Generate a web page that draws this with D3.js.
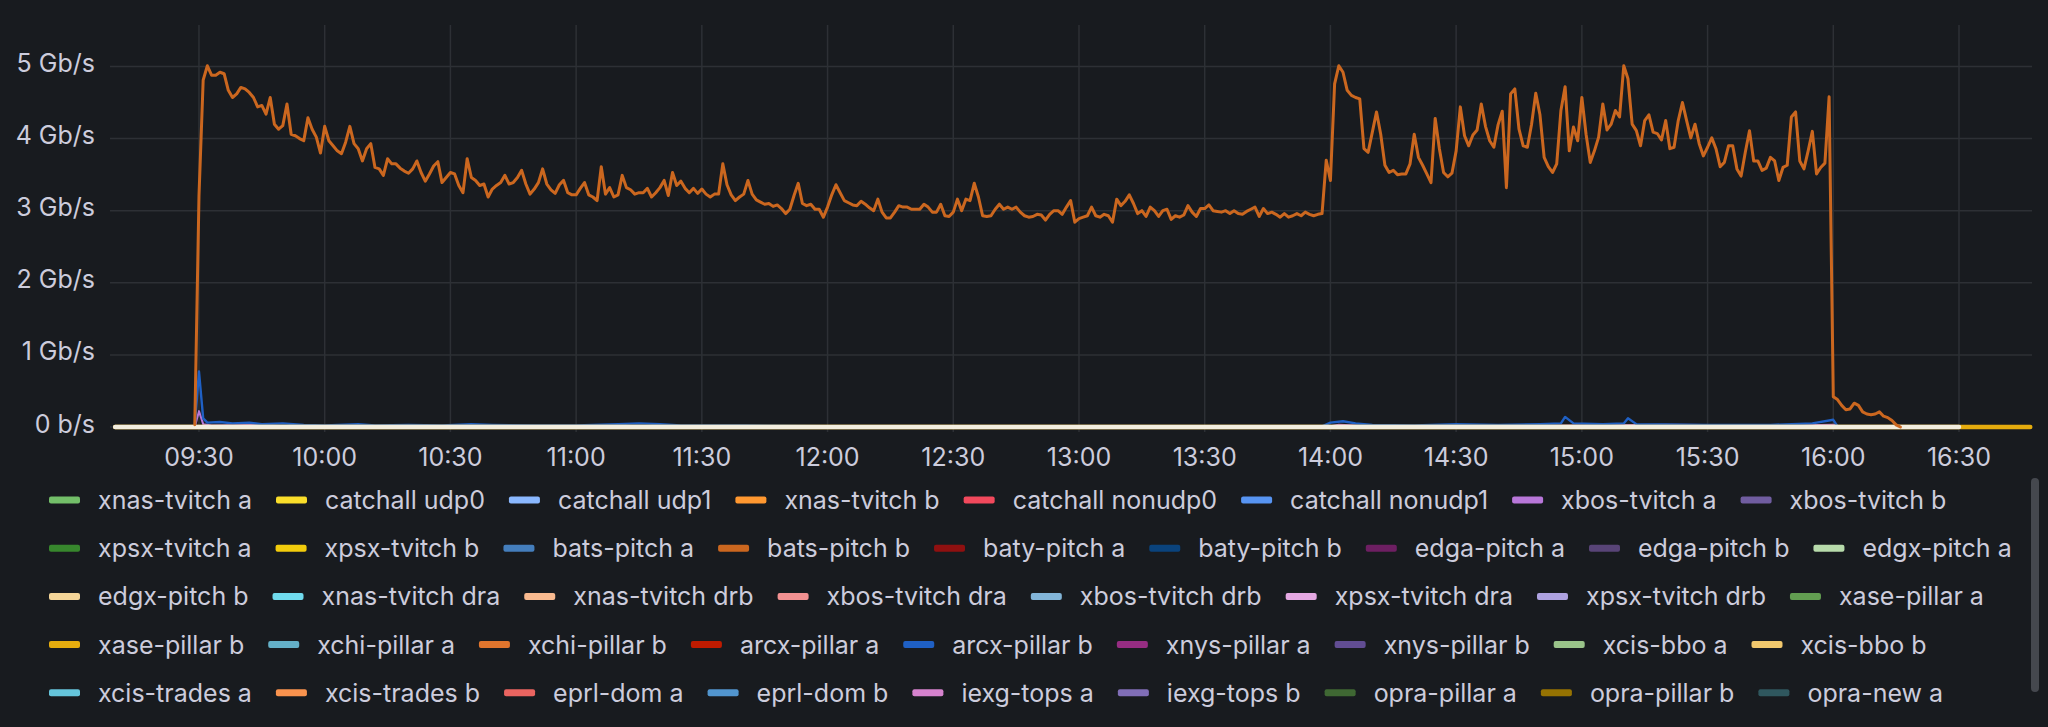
<!DOCTYPE html>
<html><head><meta charset="utf-8">
<script src="https://cdn.jsdelivr.net/npm/d3@7"></script>
<style>
html,body{margin:0;padding:0;background:#181b1f;overflow:hidden;}
svg{display:block;}
text{font-family:Inter,"Noto Sans",sans-serif;}
</style></head><body>
<svg id="chart" width="2048" height="727"></svg>
<script>
// ---------------- data ----------------
const seriesNames = [
  "xnas-tvitch a","catchall udp0","catchall udp1","xnas-tvitch b","catchall nonudp0","catchall nonudp1","xbos-tvitch a","xbos-tvitch b",
  "xpsx-tvitch a","xpsx-tvitch b","bats-pitch a","bats-pitch b","baty-pitch a","baty-pitch b","edga-pitch a","edga-pitch b","edgx-pitch a",
  "edgx-pitch b","xnas-tvitch dra","xnas-tvitch drb","xbos-tvitch dra","xbos-tvitch drb","xpsx-tvitch dra","xpsx-tvitch drb","xase-pillar a",
  "xase-pillar b","xchi-pillar a","xchi-pillar b","arcx-pillar a","arcx-pillar b","xnys-pillar a","xnys-pillar b","xcis-bbo a","xcis-bbo b",
  "xcis-trades a","xcis-trades b","eprl-dom a","eprl-dom b","iexg-tops a","iexg-tops b","opra-pillar a","opra-pillar b","opra-new a"
];
const legendRowSizes = [8, 9, 8, 9, 9];
const seriesColors = [
  "#73BF69","#FADE2A","#8AB8FF","#FF9830","#F2495C","#5794F2","#B877D9","#705DA0",
  "#37872D","#F2CC0C","#447EBC","#CB671F","#8F1010","#0A437C","#6D1F62","#584477","#B7DBAB",
  "#F4D598","#70DBED","#F9BA8F","#F29191","#82B5D8","#E5A8E2","#AEA2E0","#629E51",
  "#E5AC0E","#64B0C8","#E0752D","#BF1B00","#1F60C4","#962D82","#614D93","#9AC48A","#F2C96D",
  "#65C5DB","#F9934E","#EA6460","#5195CE","#D683CE","#806EB7","#3F6833","#967302","#2F575E"
];
const yTickValues = [0, 1, 2, 3, 4, 5];
const yTickLabels = ["0 b/s", "1 Gb/s", "2 Gb/s", "3 Gb/s", "4 Gb/s", "5 Gb/s"];
const xTickLabels = ["09:30","10:00","10:30","11:00","11:30","12:00","12:30","13:00","13:30","14:00","14:30","15:00","15:30","16:00","16:30"];
const timeRange = ["09:08:46", "16:47:25"];

// bats-pitch b, Gb/s, one sample per minute starting at 09:29
const mainStart = "09:29";
const batsPitchB = [
  0.03,3.2,4.81,5.01,4.88,4.88,4.92,4.90,4.67,4.57,4.62,4.71,4.69,4.64,4.57,4.44,4.46,4.34,4.57,4.20,
  4.13,4.18,4.48,4.06,4.04,4.00,3.97,4.29,4.13,4.02,3.80,4.17,3.97,3.90,3.83,3.79,3.95,4.17,3.93,3.86,
  3.69,3.86,3.93,3.60,3.58,3.49,3.72,3.65,3.65,3.59,3.55,3.52,3.58,3.69,3.53,3.41,3.51,3.62,3.68,3.39,
  3.46,3.53,3.51,3.35,3.25,3.72,3.46,3.42,3.35,3.37,3.19,3.30,3.35,3.39,3.49,3.37,3.39,3.46,3.56,3.37,
  3.23,3.30,3.39,3.58,3.37,3.29,3.24,3.36,3.42,3.25,3.22,3.22,3.31,3.39,3.22,3.19,3.14,3.61,3.23,3.32,
  3.19,3.22,3.49,3.32,3.29,3.23,3.25,3.25,3.31,3.19,3.25,3.32,3.42,3.21,3.53,3.35,3.41,3.31,3.25,3.31,
  3.24,3.30,3.23,3.19,3.23,3.23,3.65,3.36,3.22,3.14,3.19,3.23,3.42,3.23,3.15,3.12,3.09,3.10,3.06,3.08,
  3.03,2.96,3.02,3.21,3.38,3.10,3.07,3.09,3.02,3.02,2.91,3.05,3.22,3.36,3.25,3.14,3.11,3.08,3.07,3.13,
  3.09,3.04,3.00,3.16,2.98,2.90,2.90,2.98,3.07,3.05,3.05,3.02,3.02,3.02,3.09,3.05,2.98,2.98,3.09,2.93,
  2.92,2.98,3.16,3.00,3.16,3.14,3.38,3.19,2.93,2.92,2.93,3.02,3.09,3.02,3.05,3.02,3.05,2.98,2.93,2.91,
  2.92,2.95,2.94,2.87,2.95,3.00,3.00,2.95,3.05,3.14,2.84,2.89,2.91,2.93,3.05,2.93,2.91,2.95,2.93,2.84,
  3.16,3.07,3.13,3.22,3.10,2.96,3.00,2.92,3.05,3.00,2.92,3.00,3.02,2.88,2.93,2.91,2.94,3.07,2.98,2.92,
  3.03,3.03,3.08,3.00,2.99,2.98,3.00,2.96,3.00,2.96,2.95,2.99,3.02,3.05,2.92,3.03,2.96,2.98,2.95,2.91,
  2.96,2.91,2.93,2.96,2.93,2.98,2.95,2.93,2.95,2.96,3.70,3.42,4.76,5.01,4.92,4.67,4.60,4.57,4.55,3.86,
  3.81,4.09,4.37,4.06,3.63,3.53,3.56,3.50,3.51,3.51,3.65,4.06,3.74,3.63,3.51,3.39,4.28,3.86,3.53,3.47,
  3.52,3.83,4.44,4.04,3.90,4.05,4.12,4.48,4.17,3.97,3.88,4.19,4.38,3.32,4.62,4.69,4.13,3.90,3.88,4.20,
  4.63,4.33,3.74,3.61,3.53,3.65,4.39,4.72,3.83,4.16,3.97,4.57,4.06,3.67,3.83,4.02,4.48,4.12,4.20,4.39,
  4.30,5.01,4.83,4.20,4.11,3.90,4.25,4.33,4.09,4.07,3.98,4.25,3.86,3.88,4.25,4.50,4.25,4.01,4.20,3.93,
  3.76,3.88,4.01,3.86,3.61,3.67,3.90,3.90,3.58,3.48,3.81,4.11,3.69,3.69,3.56,3.59,3.74,3.69,3.42,3.60,
  3.63,4.30,4.37,3.69,3.58,3.83,4.10,3.51,3.60,3.66,4.58,0.42,0.38,0.30,0.24,0.25,0.33,0.30,0.21,0.18,
  0.17,0.18,0.21,0.15,0.13,0.09,0.03,0.00
];

// arcx-pillar b (small blue series near zero)
const arcxTimes = ["09:10","09:28","09:29","09:30","09:31","09:32","09:35","09:38","09:42","09:45","09:50","09:55","10:00","10:08","10:12","10:20","10:28","10:35","10:40","10:50","11:00","11:10","11:15","11:20","11:25","11:40","12:00","12:30","13:00","13:30","13:58","14:00","14:03","14:06","14:10","14:20","14:30","14:40","14:50","14:55","14:56","14:58","15:05","15:10","15:11","15:13","15:30","15:45","15:55","16:00","16:01","16:10","16:47"];
const arcxPillarB = [0,0,0.01,0.77,0.12,0.06,0.07,0.05,0.06,0.04,0.05,0.03,0.02,0.04,0.02,0.03,0.02,0.04,0.03,0.02,0.02,0.04,0.05,0.04,0.02,0.02,0.01,0.01,0.01,0.01,0.01,0.06,0.08,0.05,0.03,0.02,0.04,0.03,0.04,0.05,0.14,0.05,0.04,0.05,0.12,0.04,0.03,0.03,0.05,0.10,0.01,0,0];

// xbos-tvitch a (small purple series near zero)
const xbosTimes = ["09:10","09:29","09:30","09:31","09:33","09:45","09:50","10:00","12:00","14:00","14:02","14:10","15:00","15:20","15:50","16:00","16:02","16:47"];
const xbosTvitchA = [0,0,0.22,0.04,0.02,0.03,0.01,0.01,0,0.01,0.03,0.01,0.02,0.03,0.02,0.03,0,0];

// flat series lying on the zero line
const edgxTimes = ["09:10","16:30"];
const edgxPitchB = [0, 0];
const xaseTimes = ["09:10","16:47"];
const xasePillarB = [0, 0];

// ---------------- drawing ----------------
const svg = d3.select("#chart");
const pHM = d3.timeParse("%H:%M");
const pHMS = d3.timeParse("%H:%M:%S");
const fmt = d3.timeFormat("%H:%M");
const FS = 25;

const x = d3.scaleTime().domain(timeRange.map(pHMS)).range([110, 2032]);
const y = d3.scaleLinear().domain([0, 5]).range([427, 66.5]);
const plotTop = 25, plotBottom = 432;
const textCol = "#ccccdc";
const gridCol = "#2d3035";

svg.append("rect").attr("width", 2048).attr("height", 727).attr("fill", "#181b1f");

// gridlines
const xTicks = x.ticks(d3.timeMinute.every(30)).filter(d => xTickLabels.includes(fmt(d)));
svg.append("g").selectAll("line").data(xTicks).join("line")
  .attr("x1", d => x(d)).attr("x2", d => x(d))
  .attr("y1", plotTop).attr("y2", plotBottom)
  .attr("stroke", gridCol).attr("stroke-width", 1.5);
svg.append("g").selectAll("line").data(yTickValues).join("line")
  .attr("x1", 110).attr("x2", 2032)
  .attr("y1", d => y(d)).attr("y2", d => y(d))
  .attr("stroke", gridCol).attr("stroke-width", 1.5);

// axis labels
svg.append("g").selectAll("text").data(yTickValues).join("text")
  .attr("x", 95).attr("y", d => y(d) + 5.5)
  .attr("text-anchor", "end").attr("font-size", FS).attr("fill", textCol)
  .text((d, i) => yTickLabels[i]);
svg.append("g").selectAll("text").data(xTicks).join("text")
  .attr("x", d => x(d)).attr("y", 466)
  .attr("text-anchor", "middle").attr("font-size", FS).attr("fill", textCol)
  .text(d => fmt(d));

// series
const line = d3.line().x(d => x(d.t)).y(d => y(d.v));
function pairs(times, vals) { return times.map((t, i) => ({ t: pHM(t), v: vals[i] })); }
const col = name => seriesColors[seriesNames.indexOf(name)];

const g = svg.append("g").attr("fill", "none").attr("stroke-linejoin", "round").attr("stroke-linecap", "round");
g.append("path").datum(pairs(xbosTimes, xbosTvitchA)).attr("d", line)
  .attr("stroke", col("xbos-tvitch a")).attr("stroke-width", 2);
g.append("path").datum(pairs(arcxTimes, arcxPillarB)).attr("d", line)
  .attr("stroke", col("arcx-pillar b")).attr("stroke-width", 2.4);
g.append("path").datum(pairs(xaseTimes, xasePillarB)).attr("d", line)
  .attr("stroke", col("xase-pillar b")).attr("stroke-width", 4.5);
g.append("path").datum(pairs(edgxTimes, edgxPitchB)).attr("d", line)
  .attr("stroke", "#F3EEDF").attr("stroke-width", 4.5);
const t0 = pHM(mainStart);
const mainData = batsPitchB.map((v, i) => ({ t: d3.timeMinute.offset(t0, i), v }));
g.append("path").datum(mainData).attr("d", line)
  .attr("stroke", col("bats-pitch b")).attr("stroke-width", 3);

// legend (rows as in the panel)
const legend = svg.append("g");
const rowY = r => 500 + r * 48.2;
let idx = 0;
legendRowSizes.forEach((n, row) => {
  let lx = 49;
  for (let k = 0; k < n; k++, idx++) {
    const t = legend.append("text").text(seriesNames[idx]).attr("font-size", FS).attr("fill", textCol);
    const w = t.node().getComputedTextLength();
    legend.append("rect").attr("x", lx).attr("y", rowY(row) - 3.5)
      .attr("width", 31).attr("height", 7).attr("rx", 2).attr("fill", seriesColors[idx]);
    t.attr("x", lx + 49).attr("y", rowY(row) + 9);
    lx += 49 + w + 24;
  }
});

// scrollbar
svg.append("rect").attr("x", 2031).attr("y", 478).attr("width", 8).attr("height", 214)
  .attr("rx", 4).attr("fill", "#45484e");
</script>
</body></html>
